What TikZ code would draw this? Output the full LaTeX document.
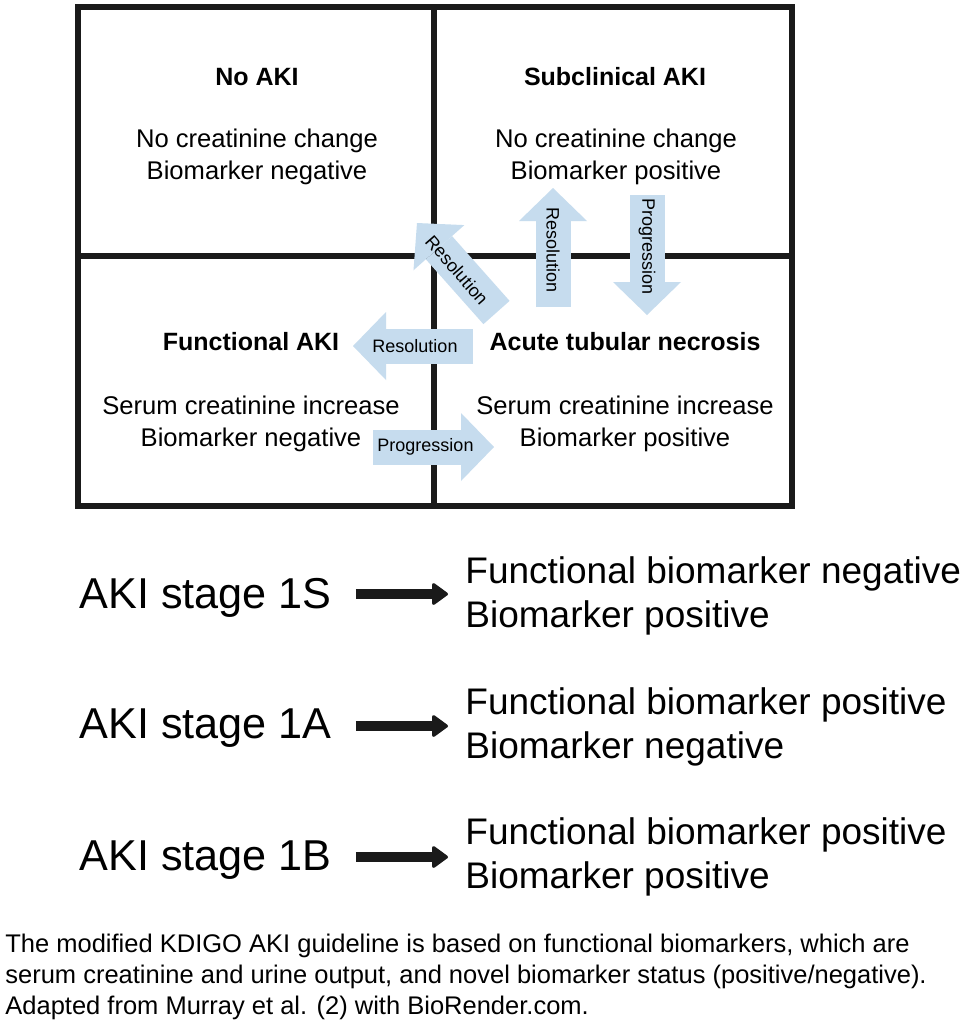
\documentclass[tikz,border=0pt]{standalone}
\usepackage{fontspec}
\setmainfont{Liberation Sans}
\usetikzlibrary{arrows.meta}
\definecolor{azulflecha}{RGB}{198,220,238}
\definecolor{rejilla}{RGB}{26,26,26}

\begin{document}
\begin{tikzpicture}[x=0.5pt, y=-0.5pt,
    titulo/.style={font=\fontsize{12.5}{15}\selectfont\bfseries, inner sep=0pt},
    cuerpo/.style={font=\fontsize{12.8}{16}\selectfont, align=center, inner sep=0pt},
    bloque/.style={line width=17.5pt, azulflecha, -{Triangle[length=16.5pt, width=34pt, line width=0pt]}},
    rotulo/.style={font=\fontsize{9}{10}\selectfont, inner sep=0pt},
    etapa/.style={font=\fontsize{21.6}{25}\selectfont, anchor=west, inner sep=0pt},
    estado/.style={font=\fontsize{18.5}{22}\selectfont, anchor=west, align=left, inner sep=0pt},
    negra/.style={line width=5pt, rejilla, -{Triangle[round, length=8.5pt, width=12pt, line width=1.5pt]}},
    nota/.style={font=\fontsize{12.75}{15.5}\selectfont, anchor=base west, inner sep=0pt}]
    \useasboundingbox[fill=white] (0,0) rectangle (963,1024);
    % Cuadricula
    \draw[rejilla, line width=3pt] (78,7) rectangle (792,506);
    \draw[rejilla, line width=3pt] (434,7) -- (434,506);
    \draw[rejilla, line width=3pt] (78,255.5) -- (792,255.5);
    % Cuadrantes
    \node[titulo] (noaki) at (257,77) {No AKI};
    \node[cuerpo] (noakitxt) at (257,157) {No creatinine change\\Biomarker negative};
    \node[titulo] (sub) at (615,77) {Subclinical AKI};
    \node[cuerpo] (subtxt) at (616,157) {No creatinine change\\Biomarker positive};
    \node[titulo] (func) at (251,342) {Functional AKI};
    \node[cuerpo] (functxt) at (251,424) {Serum creatinine increase\\Biomarker negative};
    \node[titulo] (atn) at (625,342) {Acute tubular necrosis};
    \node[cuerpo] (atntxt) at (625,424) {Serum creatinine increase\\Biomarker positive};
    % Flechas azules
    \coordinate (d0) at (496.5,312.5); \coordinate (d1) at (417,223);
    \coordinate (u0) at (553,307);     \coordinate (u1) at (553,188);
    \coordinate (p0) at (647,195);     \coordinate (p1) at (647,315);
    \coordinate (l0) at (473,346);     \coordinate (l1) at (353,346);
    \coordinate (r0) at (373,447);     \coordinate (r1) at (494,447);
    \draw[bloque] (d0) -- (d1);
    \draw[bloque] (u0) -- (u1);
    \draw[bloque] (p0) -- (p1);
    \draw[bloque] (l0) -- (l1);
    \draw[bloque] (r0) -- (r1);
    \node[rotulo, rotate=-49] (dres) at (457,270) {Resolution};
    \node[rotulo, rotate=-90] (ures) at (553,250) {Resolution};
    \node[rotulo, rotate=-90] (pprog) at (647,246.5) {Progression};
    \node[rotulo] (lres) at (415,346) {Resolution};
    \node[rotulo] (rprog) at (425.5,447) {Progression};
    % Etapas
    \node[etapa] (s1S) at (79,598) {AKI stage 1S};
    \node[etapa] (s1A) at (79,728) {AKI stage 1A};
    \node[etapa] (s1B) at (79,860) {AKI stage 1B};
    \node[estado] (e1S) at (465,596) {Functional biomarker negative\\Biomarker positive};
    \node[estado] (e1A) at (465,727) {Functional biomarker positive\\Biomarker negative};
    \node[estado] (e1B) at (465,857) {Functional biomarker positive\\Biomarker positive};
    \draw[negra] ([xshift=12pt, yshift=2pt]s1S.east) -- ([xshift=-8.5pt, yshift=2pt]s1S.east -| e1S.west);
    \draw[negra] ([xshift=12pt, yshift=1pt]s1A.east) -- ([xshift=-8.5pt, yshift=1pt]s1A.east -| e1A.west);
    \draw[negra] ([xshift=12pt, yshift=1.5pt]s1B.east) -- ([xshift=-8.5pt, yshift=1.5pt]s1B.east -| e1B.west);
    % Nota
    \node[nota] (n1) at (5,952) {The modified KDIGO AKI guideline is based on functional biomarkers, which are};
    \node[nota] (n2) at (5,983) {serum creatinine and urine output, and novel biomarker status (positive/negative).};
    \node[nota] (n3) at (5,1014) {Adapted from Murray et al. (2) with BioRender.com.};
\end{tikzpicture}
\end{document}
